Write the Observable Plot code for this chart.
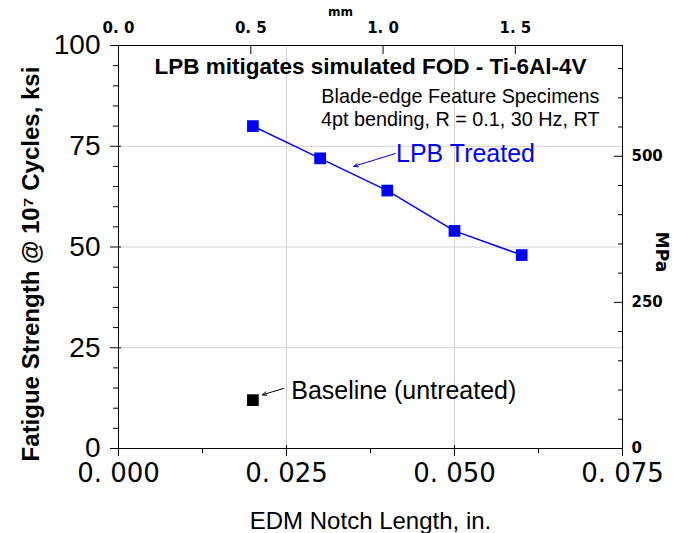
<!DOCTYPE html>
<html><head><meta charset="utf-8">
<script src="https://cdn.jsdelivr.net/npm/d3@7"></script>
<script src="https://cdn.jsdelivr.net/npm/@observablehq/plot@0.6"></script>
<style>body{margin:0;background:#fff}</style>
</head><body><div id="chart"></div>
<script>
// ---- data ----
const lpbLength = [0.020, 0.030, 0.040, 0.050, 0.060];      // in.
const lpbStrength = [80, 72, 64, 54, 48];                    // ksi
const baselineLength = [0.020];
const baselineStrength = [12];

const xTicks = [0, 0.025, 0.050, 0.075];
const xTickLabels = ["0. 000", "0. 025", "0. 050", "0. 075"];
const xMinorTicks = [0.0125, 0.0375, 0.0625];
const yTicks = [0, 25, 50, 75, 100];
const yMinorTicks = [5, 10, 15, 20, 30, 35, 40, 45, 55, 60, 65, 70, 80, 85, 90, 95];
const mmTicks = [0, 0.5, 1.0, 1.5];
const mmTickLabels = ["0. 0", "0. 5", "1. 0", "1. 5"];
const mpaTicks = [0, 250, 500];
const mpaMinorTicks = [50, 100, 150, 200, 300, 350, 400, 450, 550, 600, 650];

const titleText = "LPB mitigates simulated FOD - Ti-6Al-4V";
const subtitleLines = ["Blade-edge Feature Specimens", "4pt bending, R = 0.1, 30 Hz, RT"];
const xLabel = "EDM Notch Length, in.";
const yLabel = "Fatigue Strength @ 10\u2077 Cycles, ksi";
const y2Label = "MPa";
const x2Label = "mm";

const lpbNote = [{label: "LPB Treated", x: 0.0413, y: 71.0, x1: 0.0412, y1: 73.2, x2: 0.0350, y2: 70.0}];
const baseNote = [{label: "Baseline (untreated)", x: 0.0257, y: 12.4, x1: 0.02455, y1: 14.9, x2: 0.0214, y2: 13.3}];

// ---- conversions ----
const MM_PER_IN = 25.4;
const MPA_PER_KSI = 6.894757;
const mmToIn = (m) => m / MM_PER_IN;
const mpaToKsi = (p) => p / MPA_PER_KSI;

const lpb = lpbLength.map((x, i) => ({x, y: lpbStrength[i]}));
const base = baselineLength.map((x, i) => ({x, y: baselineStrength[i]}));

const BLUE = "#0000ff";
const GRID = "#d2d2d2";
const ARIAL = "'Liberation Sans', Arial, sans-serif";
const DEJAVU = "'DejaVu Sans', sans-serif";

const chart = Plot.plot({
  width: 685,
  height: 533,
  marginLeft: 118,
  marginRight: 63,
  marginTop: 45,
  marginBottom: 85,
  style: {fontFamily: ARIAL, background: "white", color: "black"},
  x: {domain: [0, 0.075], label: null},
  y: {domain: [0, 100], label: null},
  marks: [
    Plot.gridX(xTicks.slice(1, -1), {stroke: GRID, strokeOpacity: 1}),
    Plot.gridY(yTicks.slice(1, -1), {stroke: GRID, strokeOpacity: 1}),
    Plot.frame({stroke: "black"}),

    // bottom axis
    Plot.axisX({anchor: "bottom", ticks: xTicks, tickSize: 8, tickPadding: 7, label: null,
      tickFormat: (d) => xTickLabels[xTicks.indexOf(d)], fontSize: 26, fontFamily: DEJAVU}),
    Plot.axisX({anchor: "bottom", ticks: xTicks, tickSize: 3, dy: -3, label: null, tickFormat: () => ""}),
    Plot.axisX({anchor: "bottom", ticks: xMinorTicks, tickSize: 5, label: null, tickFormat: () => ""}),

    // top axis (mm)
    Plot.axisX({anchor: "top", ticks: mmTicks.map(mmToIn), tickSize: 8, dy: 8, label: null, tickFormat: () => ""}),
    Plot.axisX({anchor: "top", ticks: mmTicks.map(mmToIn), tickSize: 0, tickPadding: 13, label: null,
      tickFormat: (d) => mmTickLabels[mmTicks.findIndex((m) => Math.abs(mmToIn(m) - d) < 1e-9)],
      fontSize: 15, fontWeight: "bold", fontFamily: DEJAVU}),

    // left axis (ksi)
    Plot.axisY({anchor: "left", ticks: yTicks, tickSize: 8, tickPadding: 10, label: null,
      tickFormat: (d) => String(d), fontSize: 28}),
    Plot.axisY({anchor: "left", ticks: yTicks, tickSize: 3, dx: 3, label: null, tickFormat: () => ""}),
    Plot.axisY({anchor: "left", ticks: yMinorTicks, tickSize: 5, label: null, tickFormat: () => ""}),

    // right axis (MPa)
    Plot.axisY({anchor: "right", ticks: mpaTicks.map(mpaToKsi), tickSize: 9, dx: -9, label: null, tickFormat: () => ""}),
    Plot.axisY({anchor: "right", ticks: mpaMinorTicks.map(mpaToKsi), tickSize: 5, dx: -5, label: null, tickFormat: () => ""}),
    Plot.axisY({anchor: "right", ticks: mpaTicks.map(mpaToKsi), tickSize: 0, tickPadding: 9, label: null,
      tickFormat: (d) => String(Math.round(d * MPA_PER_KSI)),
      fontSize: 15, fontWeight: "bold", fontFamily: DEJAVU}),

    // data
    Plot.line(lpb, {x: "x", y: "y", stroke: BLUE, strokeWidth: 1.5}),
    Plot.dot(lpb, {x: "x", y: "y", symbol: "square", r: 6.6, fill: BLUE}),
    Plot.dot(base, {x: "x", y: "y", symbol: "square", r: 6.6, fill: "black"}),

    // annotations
    Plot.arrow(lpbNote, {x1: "x1", y1: "y1", x2: "x2", y2: "y2", stroke: BLUE, strokeWidth: 1, headLength: 7, headAngle: 45}),
    Plot.text(lpbNote, {x: "x", y: "y", text: "label", textAnchor: "start", lineAnchor: "bottom", fontSize: 25, fill: BLUE}),
    Plot.arrow(baseNote, {x1: "x1", y1: "y1", x2: "x2", y2: "y2", stroke: "black", strokeWidth: 1, headLength: 7, headAngle: 45}),
    Plot.text(baseNote, {x: "x", y: "y", text: "label", textAnchor: "start", lineAnchor: "bottom", fontSize: 25, fill: "black"}),

    // titles and labels
    Plot.text([titleText], {text: (d) => d, frameAnchor: "top", dy: 28, textAnchor: "middle", lineAnchor: "bottom", fontSize: 22.5, fontWeight: "bold"}),
    Plot.text([subtitleLines.join("\n")], {text: (d) => d, frameAnchor: "top-right", dx: -23, dy: 80, textAnchor: "end",
      lineAnchor: "bottom", lineHeight: 1.12, fontSize: 19.8}),
    Plot.text([xLabel], {text: (d) => d, frameAnchor: "bottom", dy: 80, textAnchor: "middle", lineAnchor: "bottom", fontSize: 24}),
    Plot.text([yLabel], {text: (d) => d, frameAnchor: "left", rotate: -90, dx: -80, dy: 17, textAnchor: "middle", lineAnchor: "bottom",
      fontSize: 24, fontWeight: "bold"}),
    Plot.text([y2Label], {text: (d) => d, frameAnchor: "right", rotate: 90, dx: 33, dy: 5, textAnchor: "middle", lineAnchor: "bottom",
      fontSize: 17, fontWeight: "bold", fontFamily: DEJAVU}),
    Plot.text([x2Label], {text: (d) => d, frameAnchor: "top", dx: -30, dy: -30, textAnchor: "middle", lineAnchor: "bottom",
      fontSize: 12, fontWeight: "bold", fontFamily: DEJAVU})
  ]
});
document.getElementById("chart").append(chart);
</script>
</body></html>
